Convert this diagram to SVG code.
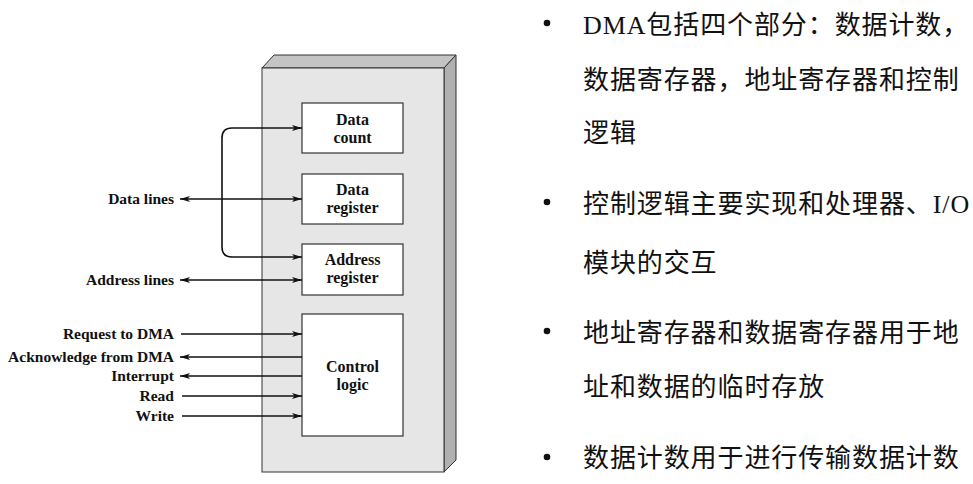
<svg xmlns="http://www.w3.org/2000/svg" width="973" height="484" viewBox="0 0 973 484">
<style>
.lbl{font-family:"Liberation Serif","Times New Roman",serif;font-weight:bold;font-size:15.5px;fill:#111}
.bl{font-size:16px}
.bx{fill:#fff;stroke:#333;stroke-width:1.2}
.cn{fill:none;stroke:#111;stroke-width:1.6}
.zh{font-family:"Liberation Serif","Noto Sans CJK SC",serif;font-size:26px;fill:#111;letter-spacing:0.9px}
</style>
<defs>
<marker id="ah" viewBox="0 0 10 6" refX="10" refY="3" markerWidth="10" markerHeight="6" markerUnits="userSpaceOnUse" orient="auto-start-reverse">
<path d="M0,0 L10,3 L0,6 L2.5,3 Z" fill="#111"/>
</marker>
</defs>
<rect width="973" height="484" fill="#fff"/>
<g id="dma-module">
<polygon points="262,68 274,55 456,55 444,68" fill="#c4c4c4" stroke="#333" stroke-width="1"/>
<polygon points="444,68 456,55 456,460 444,472" fill="#b0b0b0" stroke="#333" stroke-width="1"/>
<rect x="262" y="68" width="182" height="404" fill="#e6e6e6" stroke="#333" stroke-width="1"/>
</g>
<g id="data-count">
<rect class="bx" x="302" y="103" width="101" height="50"/>
<text class="lbl bl" x="352.5" y="124.5" text-anchor="middle">Data</text>
<text class="lbl bl" x="352.5" y="142.5" text-anchor="middle">count</text>
</g>
<g id="data-register">
<rect class="bx" x="302" y="174" width="101" height="50"/>
<text class="lbl bl" x="352.5" y="195" text-anchor="middle">Data</text>
<text class="lbl bl" x="352.5" y="212.5" text-anchor="middle">register</text>
</g>
<g id="address-register">
<rect class="bx" x="302" y="244" width="101" height="51"/>
<text class="lbl bl" x="352.5" y="265" text-anchor="middle">Address</text>
<text class="lbl bl" x="352.5" y="283" text-anchor="middle">register</text>
</g>
<g id="control-logic">
<rect class="bx" x="302" y="314" width="101" height="122"/>
<text class="lbl bl" x="352.5" y="372" text-anchor="middle">Control</text>
<text class="lbl bl" x="352.5" y="390" text-anchor="middle">logic</text>
</g>
<g id="labels">
<text class="lbl" x="174" y="204" text-anchor="end">Data lines</text>
<text class="lbl" x="174" y="285" text-anchor="end">Address lines</text>
<text class="lbl" x="174" y="339" text-anchor="end">Request to DMA</text>
<text class="lbl" x="174" y="362" text-anchor="end">Acknowledge from DMA</text>
<text class="lbl" x="174" y="381" text-anchor="end">Interrupt</text>
<text class="lbl" x="174" y="401" text-anchor="end">Read</text>
<text class="lbl" x="174" y="421" text-anchor="end">Write</text>
</g>
<g id="connectors">
<path class="cn" d="M232,128 H302" marker-end="url(#ah)"/>
<path class="cn" d="M232,128 Q222,128 222,138 V247 Q222,257 232,257 H302" marker-end="url(#ah)"/>
<path class="cn" d="M180,199 H302" marker-start="url(#ah)" marker-end="url(#ah)"/>
<path class="cn" d="M180,280 H302" marker-start="url(#ah)" marker-end="url(#ah)"/>
<path class="cn" d="M181,334 H302" marker-end="url(#ah)"/>
<path class="cn" d="M302,357 H180" marker-end="url(#ah)"/>
<path class="cn" d="M302,376 H180" marker-end="url(#ah)"/>
<path class="cn" d="M182,396 H302" marker-end="url(#ah)"/>
<path class="cn" d="M182,416 H302" marker-end="url(#ah)"/>
</g>
<g id="bullets">
<circle cx="547" cy="23" r="3.3" fill="#111"/>
<circle cx="547" cy="202" r="3.3" fill="#111"/>
<circle cx="547" cy="331" r="3.3" fill="#111"/>
<circle cx="547" cy="457" r="3.3" fill="#111"/>
<text class="zh" x="583" y="34">DMA包括四个部分：数据计数，</text>
<text class="zh" x="583" y="89">数据寄存器，地址寄存器和控制</text>
<text class="zh" x="583" y="142">逻辑</text>
<text class="zh" x="583" y="213">控制逻辑主要实现和处理器、I/O</text>
<text class="zh" x="583" y="272">模块的交互</text>
<text class="zh" x="583" y="342">地址寄存器和数据寄存器用于地</text>
<text class="zh" x="583" y="396">址和数据的临时存放</text>
<text class="zh" x="583" y="467">数据计数用于进行传输数据计数</text>
</g>
</svg>
